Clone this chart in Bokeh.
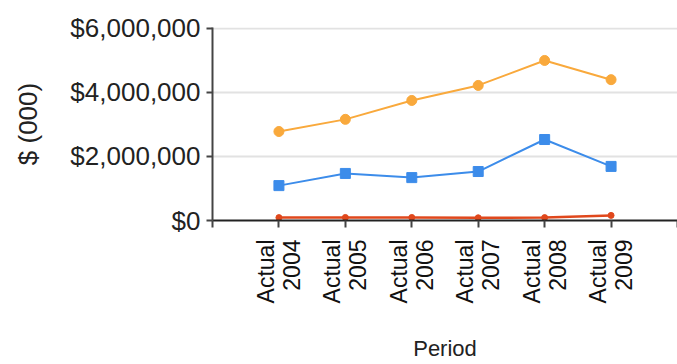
import math
from bokeh.plotting import figure
from bokeh.models import FixedTicker, NumeralTickFormatter, Range1d
from bokeh.embed import file_html
from bokeh.resources import INLINE

periods = ["Actual\n2004", "Actual\n2005", "Actual\n2006", "Actual\n2007", "Actual\n2008", "Actual\n2009"]
series_orange = [2780000, 3160000, 3750000, 4220000, 5000000, 4400000]
series_blue = [1090000, 1470000, 1340000, 1530000, 2530000, 1690000]
series_red = [90000, 95000, 95000, 85000, 90000, 160000]
y_ticks = [0, 2000000, 4000000, 6000000]

xs = list(range(1, len(periods) + 1))
FONT = "Liberation Sans"

p = figure(width=677, height=364, output_backend="svg", toolbar_location=None,
           x_range=Range1d(0, len(periods) + 1), y_range=Range1d(0, 6030000),
           min_border_left=212, min_border_right=0, min_border_top=27, min_border_bottom=144)
p.outline_line_color = None
p.background_fill_color = "white"
p.border_fill_color = "white"

# grid
p.xgrid.grid_line_color = None
p.ygrid.grid_line_color = "#e2e2e2"
p.ygrid.grid_line_width = 2
p.ygrid.ticker = FixedTicker(ticks=y_ticks)

# y axis
p.yaxis.ticker = FixedTicker(ticks=y_ticks)
p.yaxis.formatter = NumeralTickFormatter(format="$0,0")
p.yaxis.major_label_text_font = FONT
p.yaxis.major_label_text_font_size = "26px"
p.yaxis.major_label_text_color = "#222222"
p.yaxis.major_tick_out = 6
p.yaxis.major_tick_in = 0
p.yaxis.minor_tick_line_color = None
p.yaxis.axis_line_color = "#444444"
p.yaxis.axis_line_width = 2
p.yaxis.major_tick_line_color = "#444444"
p.yaxis.major_tick_line_width = 2
p.yaxis.major_label_standoff = 6
p.yaxis.axis_label = "$ (000)"
p.yaxis.axis_label_text_font = FONT
p.yaxis.axis_label_text_font_size = "26px"
p.yaxis.axis_label_text_font_style = "normal"
p.yaxis.axis_label_text_color = "#222222"
p.yaxis.axis_label_standoff = 24

# x axis
p.xaxis.ticker = FixedTicker(ticks=list(range(0, len(periods) + 2)))
p.xaxis.major_label_overrides = {0: "", len(periods) + 1: "", **{x: lab for x, lab in zip(xs, periods)}}
p.xaxis.major_label_orientation = math.pi / 2
p.xaxis.major_label_text_font = FONT
p.xaxis.major_label_text_font_size = "23px"
p.xaxis.major_label_text_line_height = 1.0
p.xaxis.major_label_text_color = "#111111"
p.xaxis.major_tick_out = 7
p.xaxis.major_tick_in = 0
p.xaxis.minor_tick_line_color = None
p.xaxis.axis_line_color = "#222222"
p.xaxis.axis_line_width = 2
p.xaxis.major_tick_line_color = "#444444"
p.xaxis.major_tick_line_width = 2
p.xaxis.major_label_standoff = 12
p.xaxis.axis_label = "Period"
p.xaxis.axis_label_text_font = FONT
p.xaxis.axis_label_text_font_size = "22px"
p.xaxis.axis_label_text_font_style = "normal"
p.xaxis.axis_label_text_color = "#222222"
p.xaxis.axis_label_standoff = 30

orange = "#F9A93C"
blue = "#3C8CEA"
red = "#E0481C"

p.line(xs, series_orange, line_color=orange, line_width=2)
p.scatter(xs, series_orange, marker="circle", size=10, fill_color=orange, line_color=orange)
p.line(xs, series_blue, line_color=blue, line_width=2)
p.scatter(xs, series_blue, marker="square", size=10, fill_color=blue, line_color=blue)
p.line(xs, series_red, line_color=red, line_width=2.5)
p.scatter(xs, series_red, marker="circle", size=6, fill_color=red, line_color=red)

open("out.html", "w").write(file_html(p, INLINE))
